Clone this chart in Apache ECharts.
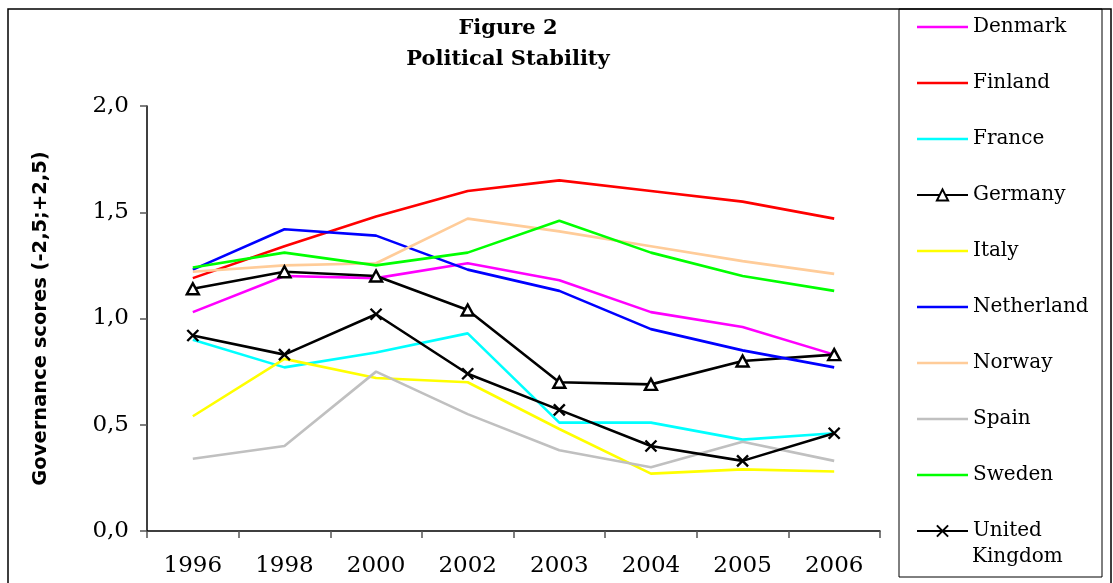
<!DOCTYPE html>
<html>
<head>
<meta charset="utf-8">
<script src="https://cdn.jsdelivr.net/npm/echarts@6/dist/echarts.min.js"></script>
<style>
  html, body { margin: 0; padding: 0; background: #fff; }
  #chart { width: 1113px; height: 583px; }
</style>
</head>
<body>
<div id="chart"></div>
<script>
// Political stability scores, 1996-2006
const years = ['1996', '1998', '2000', '2002', '2003', '2004', '2005', '2006'];

const denmark     = [1.03, 1.20, 1.19, 1.26, 1.18, 1.03, 0.96, 0.83];
const finland     = [1.19, 1.34, 1.48, 1.60, 1.65, 1.60, 1.55, 1.47];
const france      = [0.90, 0.77, 0.84, 0.93, 0.51, 0.51, 0.43, 0.46];
const germany     = [1.14, 1.22, 1.20, 1.04, 0.70, 0.69, 0.80, 0.83];
const italy       = [0.54, 0.81, 0.72, 0.70, 0.48, 0.27, 0.29, 0.28];
const netherland  = [1.23, 1.42, 1.39, 1.23, 1.13, 0.95, 0.85, 0.77];
const norway      = [1.22, 1.25, 1.26, 1.47, 1.41, 1.34, 1.27, 1.21];
const spain       = [0.34, 0.40, 0.75, 0.55, 0.38, 0.30, 0.42, 0.33];
const sweden      = [1.24, 1.31, 1.25, 1.31, 1.46, 1.31, 1.20, 1.13];
const unitedKingdom = [0.92, 0.83, 1.02, 0.74, 0.57, 0.40, 0.33, 0.46];

const yTicks = { min: 0, max: 2, interval: 0.5 };

const serif = 'DejaVu Serif';
const crossPath = 'path://M0,0L10,10M10,0L0,10';
// thin bar used as the legend key of the unmarked lines
const lineKey = 'path://M0,0H51V2.6H0Z';
const LW = 2.6;

function plain(name, values, color) {
  return {
    name: name, type: 'line', data: values,
    symbol: 'none', silent: true,
    lineStyle: { color: color, width: LW },
    itemStyle: { color: color }
  };
}

const series = [
  plain('Denmark', denmark, '#FF00FF'),
  plain('Finland', finland, '#FF0000'),
  plain('France', france, '#00FFFF'),
  {
    name: 'Germany', type: 'line', data: germany, silent: true,
    symbol: 'triangle', symbolSize: [12, 11], showSymbol: true,
    lineStyle: { color: '#000', width: LW },
    itemStyle: { color: '#fff', borderColor: '#000', borderWidth: 2.4 }
  },
  plain('Italy', italy, '#FFFF00'),
  plain('Netherland', netherland, '#0000FF'),
  plain('Norway', norway, '#FFCC99'),
  plain('Spain', spain, '#C0C0C0'),
  plain('Sweden', sweden, '#00FF00'),
  {
    name: 'United Kingdom', type: 'line', data: unitedKingdom, silent: true,
    symbol: crossPath, symbolSize: 11, showSymbol: true,
    lineStyle: { color: '#000', width: LW },
    itemStyle: { color: '#000', borderColor: '#000', borderWidth: 2.4 }
  }
];

const legendData = series.map(s => s.symbol === 'none'
  ? { name: s.name, icon: lineKey }
  : { name: s.name });

const chart = echarts.init(document.getElementById('chart'), null, { renderer: 'canvas' });
chart.setOption({
  animation: false,
  backgroundColor: '#fff',
  title: {
    text: 'Figure 2\nPolitical Stability',
    left: 503, top: 8,
    textAlign: 'center',
    textStyle: { fontFamily: serif, fontWeight: 'bold', fontSize: 21, lineHeight: 31, color: '#000' }
  },
  graphic: [
    { type: 'rect', shape: { x: 8, y: 9, width: 1103, height: 620 }, style: { fill: 'none', stroke: '#000', lineWidth: 1.5 }, silent: true, z: -1 },
    { type: 'rect', shape: { x: 899, y: 9, width: 203, height: 568 }, style: { fill: 'none', stroke: '#000', lineWidth: 1 }, silent: true, z: -1 },
    // second line of the last legend entry
    { type: 'text', x: 972, y: 557, style: { text: 'Kingdom', fontFamily: serif, fontSize: 20, fill: '#000', verticalAlign: 'middle', align: 'left' }, silent: true }
  ],
  legend: {
    orient: 'vertical',
    left: 911, top: 8,
    itemWidth: 51, itemHeight: 14, itemGap: 28,
    selectedMode: false,
    data: legendData,
    formatter: n => n === 'United Kingdom' ? 'United' : n,
    textStyle: { fontFamily: serif, fontSize: 20, lineHeight: 28, color: '#000' }
  },
  grid: { left: 147, right: 233, top: 106, bottom: 52, containLabel: false },
  xAxis: {
    type: 'category', data: years, boundaryGap: true,
    axisLine: { lineStyle: { color: '#000', width: 1.5 } },
    axisTick: { show: true, length: 7, lineStyle: { color: '#555', width: 1.5 } },
    axisLabel: { fontFamily: serif, fontSize: 23, color: '#000', margin: 24 },
    splitLine: { show: false }
  },
  yAxis: {
    type: 'value', min: yTicks.min, max: yTicks.max, interval: yTicks.interval,
    name: 'Governance scores (-2,5;+2,5)',
    nameLocation: 'middle', nameGap: 96, nameRotate: 90,
    nameTextStyle: { fontFamily: 'DejaVu Sans', fontWeight: 'bold', fontSize: 19.5, color: '#000' },
    axisLine: { show: true, lineStyle: { color: '#000', width: 1.5 } },
    axisTick: { show: true, length: 7, inside: false, lineStyle: { color: '#555', width: 1.5 } },
    axisLabel: {
      fontFamily: serif, fontSize: 23, color: '#000', margin: 18,
      formatter: v => v.toFixed(1).replace('.', ',')
    },
    splitLine: { show: false }
  },
  series: series
});
</script>
</body>
</html>
